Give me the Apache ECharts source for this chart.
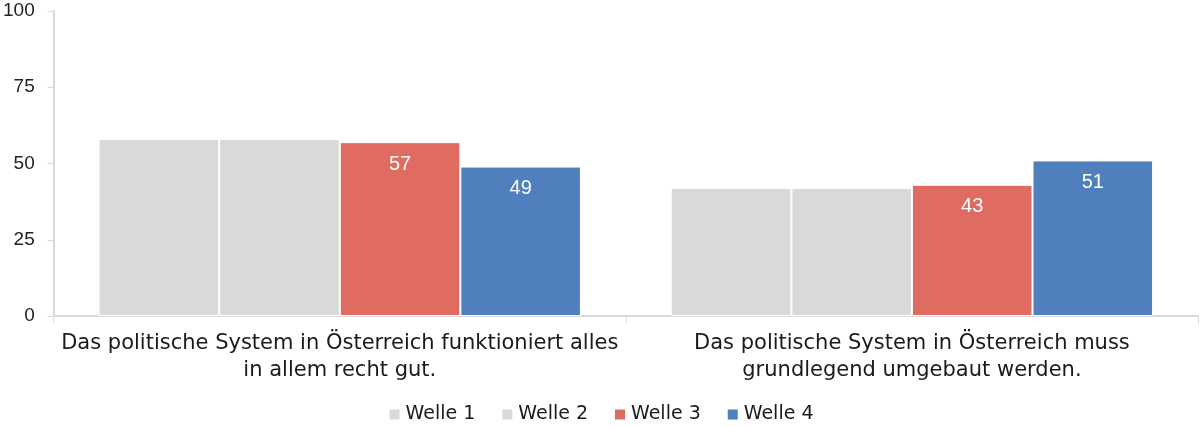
<!DOCTYPE html>
<html><head><meta charset="utf-8">
<script src="https://cdn.jsdelivr.net/npm/echarts@6/dist/echarts.min.js"></script>
<style>html,body{margin:0;padding:0;background:#fff}#c{width:1201px;height:427px}</style>
</head><body><div id="c"></div>
<script>
const categories = ["Das politische System in Österreich funktioniert alles\nin allem recht gut.", "Das politische System in Österreich muss\ngrundlegend umgebaut werden."];
const seriesNames = ["Welle 1", "Welle 2", "Welle 3", "Welle 4"];
const welle1 = [58, 42];
const welle2 = [58, 42];
const welle3 = [57, 43];
const welle4 = [49, 51];
const yTicks = [0, 25, 50, 75, 100];
const colors = ["#d9d9d9", "#d9d9d9", "#e06b60", "#4f7fbd"];
const showLabels = [false, false, true, true];
const values = [welle1, welle2, welle3, welle4];

const font = "DejaVu Sans";
const chart = echarts.init(document.getElementById('c'), null, {renderer: 'canvas'});
chart.setOption({
  animation: false,
  grid: {left: 52, right: 3, top: 11, bottom: 111, containLabel: false},
  legend: {
    bottom: -2, left: 'center', itemWidth: 12, itemHeight: 12, itemGap: 25,
    icon: 'rect',
    textStyle: {fontFamily: font, fontSize: 19, color: '#1a1a1a'},
    data: seriesNames
  },
  xAxis: {
    type: 'category', data: categories,
    axisLine: {lineStyle: {color: '#d9d9d9', width: 2}},
    axisTick: {show: true, alignWithLabel: false, length: 7, lineStyle: {color: '#d9d9d9'}},
    axisLabel: {interval: 0, fontFamily: font, fontSize: 21, color: '#1a1a1a', lineHeight: 27, margin: 14}
  },
  yAxis: {
    type: 'value', min: yTicks[0], max: yTicks[yTicks.length-1], interval: 25,
    splitLine: {show: false},
    axisLine: {show: true, lineStyle: {color: '#d9d9d9', width: 2}},
    axisTick: {show: true, length: 6, lineStyle: {color: '#d9d9d9'}},
    axisLabel: {fontFamily: 'Liberation Sans', fontSize: 19, color: '#222', margin: 19}
  },
  series: seriesNames.map((n, i) => ({
    name: n, type: 'bar', data: values[i],
    barGap: '0%', barCategoryGap: '15.7%',
    itemStyle: {color: colors[i], borderColor: '#fff', borderWidth: 1},
    label: {show: showLabels[i], position: 'insideTop', distance: 12, color: '#fff',
            fontFamily: 'Liberation Sans', fontSize: 20}
  }))
});
</script></body></html>
